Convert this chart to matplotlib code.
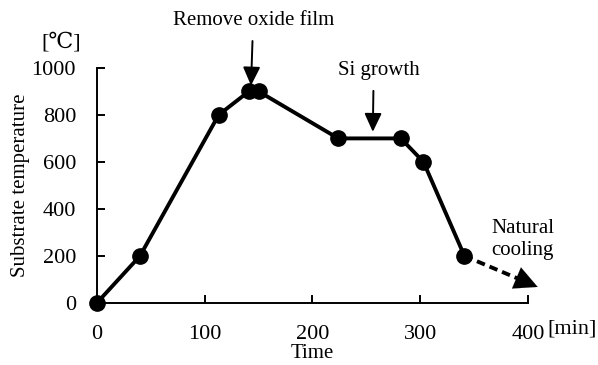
import matplotlib
matplotlib.use("Agg")
import matplotlib.pyplot as plt

plt.rcParams['font.family'] = ['Liberation Serif', 'DejaVu Serif', 'Noto Sans CJK JP']
plt.rcParams['font.size'] = 15

# process profile: time [min] vs substrate temperature [C]
time_min = [0, 40, 113, 141, 150, 224, 282, 303, 341]
temp_c = [0, 200, 800, 900, 900, 700, 700, 600, 200]
cooling_end = (409, 68)

fig = plt.figure(figsize=(5.98, 3.65), dpi=100)
ax = fig.add_axes([0.162, 0.170, 0.721, 0.644])

ax.plot(time_min, temp_c, color='black', lw=2.8, marker='o', ms=11, zorder=3, clip_on=False)

# natural cooling: dashed line + solid head
x0, y0 = time_min[-1], temp_c[-1]
xe, ye = cooling_end
f = 0.78
ax.plot([x0, x0 + f * (xe - x0)], [y0, y0 + f * (ye - y0)], color='black', lw=2.8,
        ls=(0, (2.2, 1.3)), clip_on=False, zorder=2)
ax.annotate('', xy=cooling_end, xytext=(x0 + 0.7 * (xe - x0), y0 + 0.7 * (ye - y0)),
            arrowprops=dict(arrowstyle='-|>,head_length=1.1,head_width=0.55', lw=0.1,
                            color='black', shrinkA=0, shrinkB=0),
            annotation_clip=False)

ax.set_xlim(0, 400)
ax.set_ylim(0, 1000)
ax.set_xticks([0, 100, 200, 300, 400])
ax.set_yticks([0, 200, 400, 600, 800, 1000])
ax.spines['top'].set_visible(False)
ax.spines['right'].set_visible(False)
for s in ('left', 'bottom'):
    ax.spines[s].set_linewidth(1.4)
ax.tick_params(direction='in', length=5.5, width=1.4, labelsize=16)
ax.tick_params(axis='y', pad=15)
ax.tick_params(axis='x', pad=16)

ax.set_xlabel('Time', fontsize=15, labelpad=0)
ax.set_ylabel('Substrate temperature', fontsize=15, labelpad=1)

fig.text(61 / 598, 1 - 43 / 365, '[℃]', ha='center', va='center', fontsize=16)
fig.text(547 / 598, 1 - 329 / 365, '[min]', ha='left', va='center', fontsize=16)

ax.annotate('Remove oxide film', xy=(143, 925), xytext=(145, 1202),
            ha='center', va='center', fontsize=15, annotation_clip=False,
            arrowprops=dict(arrowstyle='-|>,head_length=0.75,head_width=0.35', lw=1.4,
                            color='black', shrinkA=6, shrinkB=0))
ax.annotate('Si growth', xy=(256, 728), xytext=(262, 990),
            ha='center', va='center', fontsize=15, annotation_clip=False,
            arrowprops=dict(arrowstyle='-|>,head_length=0.75,head_width=0.35', lw=1.4,
                            color='black', shrinkA=6, shrinkB=0, relpos=(0.43, 0)))
ax.text(366, 270, 'Natural\ncooling', ha='left', va='center', fontsize=15,
        linespacing=1.15)

fig.savefig('out.png', dpi=100)
